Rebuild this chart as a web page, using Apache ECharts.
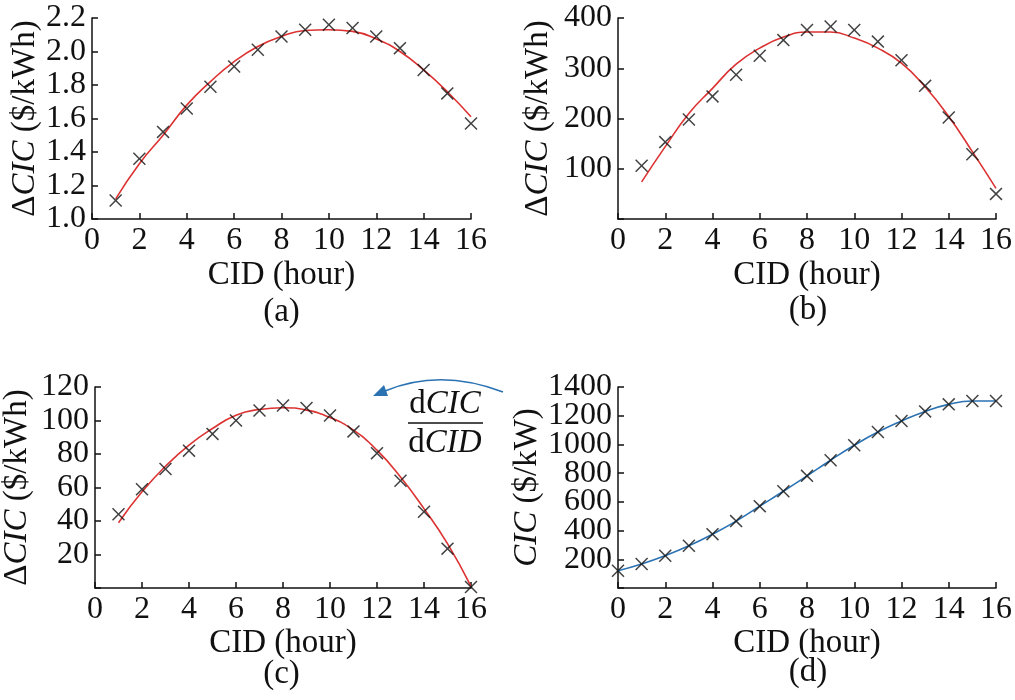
<!DOCTYPE html>
<html>
<head>
<meta charset="utf-8">
<script src="https://cdn.jsdelivr.net/npm/echarts@6/dist/echarts.min.js"></script>
<style>html,body{margin:0;padding:0;background:#fff}#c{width:1015px;height:700px}</style>
</head>
<body>
<div id="c"></div>
<script>
// ---- data ----
var hours = [1,2,3,4,5,6,7,8,9,10,11,12,13,14,15,16];
var hoursD = [0,1,2,3,4,5,6,7,8,9,10,11,12,13,14,15,16];

var ptsA = [1.11,1.36,1.52,1.66,1.79,1.91,2.01,2.09,2.13,2.16,2.14,2.09,2.02,1.89,1.75,1.57];
var fitA = [1.12,1.33,1.50,1.68,1.82,1.94,2.03,2.09,2.125,2.13,2.12,2.075,2.00,1.89,1.76,1.61];

var ptsB = [106,153,198,244,287,325,356,376,383,376,353,316,265,202,129,50];
var fitB = [74,144,210,260,308,340,362,372,372,360,340,310,263,204,134,61];

var ptsC = [44,59,71,82,92,100,106,109,107.5,103,93.5,80.5,64,45.5,23.5,0.6];
var fitC = [39,57.4,72.7,85.3,95.2,103.2,106.6,107.6,106.2,101.8,94.2,82.3,66.3,47.4,26.5,1];

var ptsD = [120,167,225,294,375,466,570,674,781,890,994,1086,1163,1230,1279,1302,1302];

var xTicks = {min:0, max:16, interval:2};
var yA = {min:1.0, max:2.2, interval:0.2};
var yB = {min:0, max:400, interval:100};
var yC = {min:0, max:120, interval:20};
var yD = {min:0, max:1400, interval:200};

var panelLabels = ['(a)','(b)','(c)','(d)'];
var xName = 'CID (hour)';

// ---- styling ----
var FONT = "'Liberation Serif','Times New Roman',serif";
var INK = '#111111';
var RED = '#dc3232';
var BLUE = '#2b72b3';
var CROSS = 'path://M0,0.8L0.8,0L5,4.2L9.2,0L10,0.8L5.8,5L10,9.2L9.2,10L5,5.8L0.8,10L0,9.2L4.2,5Z';
var LBL = 32, NAME = 33;

function zip(xs, ys){ return xs.map(function(x,i){return [x, ys[i]];}); }

var grids = [
  {left:92, top:18, width:379, height:201},
  {left:618, top:18, width:380, height:201},
  {left:92, top:387, width:379, height:201},
  {left:618, top:387, width:380, height:201}
];

var axisCommon = {
  axisLine:{show:true, onZero:false, lineStyle:{color:INK, width:1.5}},
  axisTick:{show:true, inside:true, length:6, lineStyle:{color:INK, width:1.5}},
  splitLine:{show:false}
};

function xAxis(i, gap){
  return Object.assign({
    type:'value', gridIndex:i, min:xTicks.min, max:xTicks.max, interval:xTicks.interval,
    name:xName, nameLocation:'middle', nameGap:gap,
    nameTextStyle:{fontFamily:FONT, fontSize:NAME, color:INK},
    axisLabel:{fontFamily:FONT, fontSize:LBL, color:INK, margin:6, showMinLabel:true, showMaxLabel:true, hideOverlap:false}
  }, axisCommon);
}
function yAxis(i, rng, nameRich, gap, dec, hideZero, skipMax){
  return Object.assign({
    type:'value', gridIndex:i, min:rng.min, max:rng.max, interval:rng.interval,
    name:nameRich, nameLocation:'middle', nameGap:gap,
    nameTextStyle:{fontFamily:FONT, fontSize:NAME, color:INK,
      rich:{n:{fontFamily:FONT, fontSize:NAME, color:INK}, i:{fontFamily:FONT, fontSize:NAME, color:INK, fontStyle:'italic'}}},
    axisLabel:{fontFamily:FONT, fontSize:LBL, lineHeight:24, color:INK, margin:6,
      showMinLabel:true, showMaxLabel:true, hideOverlap:false, interval:0,
      formatter:function(v){
        if(hideZero && v===0) return '';
        if(skipMax && v===rng.max) return '';
        return dec ? v.toFixed(dec) : String(v); }}
  }, axisCommon);
}
// overlay axis carrying only the top label of panel (d)
function topLabelAxis(i, rng){
  return {
    type:'value', gridIndex:i, min:rng.min, max:rng.max, interval:rng.interval, position:'left',
    axisLine:{show:false}, axisTick:{show:false}, splitLine:{show:false},
    axisLabel:{fontFamily:FONT, fontSize:LBL, lineHeight:24, color:INK, margin:6,
      showMinLabel:true, showMaxLabel:true, hideOverlap:false,
      formatter:function(v){ return v===rng.max ? String(v) : ''; }}
  };
}

var dName = '{n|Δ}{i|CIC}{n| ($/kWh)}';
var cName = '{i|CIC}{n| ($/kW)}';

function scatter(i, xs, ys){
  return {type:'scatter', xAxisIndex:i, yAxisIndex:i, data:zip(xs, ys), symbol:CROSS, symbolSize:13,
    itemStyle:{color:INK}, z:3, silent:true};
}
function fitLine(i, xs, ys, color){
  return {type:'line', xAxisIndex:i, yAxisIndex:i, data:zip(xs, ys), smooth:true, showSymbol:false,
    lineStyle:{color:color, width:1.6}, z:2, silent:true};
}

var titleTops = [296, 294, 658, 656];
var option = {
  animation:false,
  backgroundColor:'#fff',
  grid:grids,
  title:panelLabels.map(function(t,i){
    return {text:t, left:grids[i].left + grids[i].width/2, top:titleTops[i], textAlign:'center', padding:0,
      textStyle:{fontFamily:FONT, fontSize:NAME, fontWeight:'normal', color:INK}};
  }),
  xAxis:[xAxis(0,40), xAxis(1,40), xAxis(2,36), xAxis(3,36)],
  yAxis:[
    yAxis(0, yA, dName, 50, 1, false, false),
    yAxis(1, yB, dName, 63, 0, true, false),
    yAxis(2, yC, dName, 61, 0, true, false),
    yAxis(3, yD, cName, 72, 0, true, true),
    topLabelAxis(3, yD)
  ],
  series:[
    fitLine(0, hours, fitA, RED), scatter(0, hours, ptsA),
    fitLine(1, hours, fitB, RED), scatter(1, hours, ptsB),
    fitLine(2, hours, fitC, RED), scatter(2, hours, ptsC),
    fitLine(3, hoursD, ptsD, BLUE), scatter(3, hoursD, ptsD)
  ],
  graphic:[
    {type:'text', x:445, y:404, style:{text:'{n|d}{i|CIC}', align:'center', verticalAlign:'middle',
      rich:{n:{fontFamily:FONT, fontSize:NAME, fill:INK}, i:{fontFamily:FONT, fontSize:NAME, fill:INK, fontStyle:'italic'}}}},
    {type:'line', shape:{x1:408, y1:423, x2:483, y2:423}, style:{stroke:INK, lineWidth:1.5}},
    {type:'text', x:445, y:443, style:{text:'{n|d}{i|CID}', align:'center', verticalAlign:'middle',
      rich:{n:{fontFamily:FONT, fontSize:NAME, fill:INK}, i:{fontFamily:FONT, fontSize:NAME, fill:INK, fontStyle:'italic'}}}},
    {type:'bezierCurve', shape:{x1:503, y1:392, cpx1:440, cpy1:368, x2:385, y2:391},
      style:{stroke:BLUE, lineWidth:1.6, fill:null}},
    {type:'polygon', shape:{points:[[373,396],[384,385],[388,396]]}, style:{fill:BLUE}}
  ]
};

var chart = echarts.init(document.getElementById('c'));
chart.setOption(option);
</script>
</body>
</html>
